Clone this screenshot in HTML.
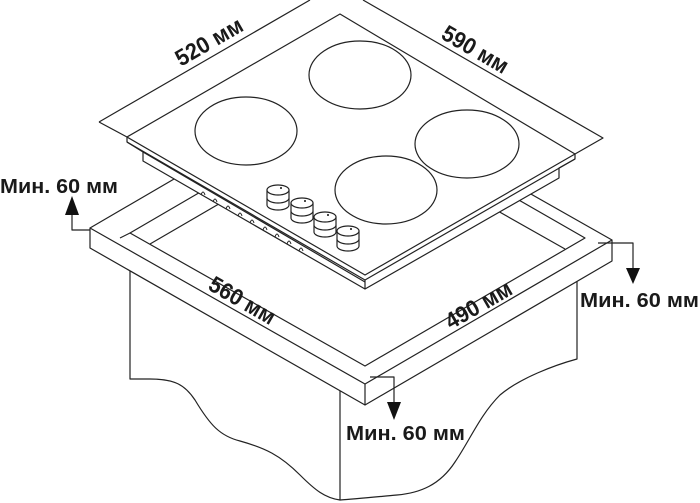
<!DOCTYPE html>
<html><head><meta charset="utf-8"><style>
html,body{margin:0;padding:0;background:#fff;}
svg{display:block;}
text{font-family:"Liberation Sans",sans-serif;font-weight:bold;fill:#1a1a1a;}
</style></head><body>
<svg width="700" height="503" viewBox="0 0 700 503" xmlns="http://www.w3.org/2000/svg">
<g fill="none" stroke="#222" stroke-width="1.2" stroke-linejoin="round">
<!-- cabinet -->
<path d="M130,271 L130,379 L150,379 C175,379 185,385 195,400 C210,425 220,436 240,441 C265,448 280,455 300,475 C315,490 325,498 340,500 L340,391"/>
<path d="M577,281 L577,359 C555,365 520,378 500,395 C480,415 470,440 455,462 C440,485 420,493 397,495 C375,497 355,499 340,500"/>
<!-- countertop -->
<path d="M90,228 L337,84 L612,240"/>
<path d="M90,228 L365,384 L612,240 L612,261 L365,405 L90,248 Z"/>
<path d="M365,384 L365,405"/>
<path d="M245,166 L130,233 L365,366 L585,238 L470,172"/>
<path d="M150,244 L260,180"/>
<path d="M565,249 L450,184"/>
<path d="M120,238 L130,233"/>
<!-- hob body -->
<path fill="#fff" d="M127,137 L340,14 L575,154 L575,159 L559,168 L559,178 L365,289 L143,161 L143,152 L127,142 Z"/>
<path d="M127,142 L365,280 L575,159"/>
<path d="M143,152 L365,282 M365,280 L365,289"/>
<path d="M127,137 L365,275 L575,154"/>
<!-- dimension lines -->
<path d="M99,122 L310,0 M99,122 L127,137"/>
<path d="M363,0 L603,138 L575,154"/>
<!-- burners -->
<ellipse cx="246" cy="131" rx="51" ry="34"/>
<ellipse cx="360" cy="75" rx="51" ry="34"/>
<ellipse cx="467" cy="144" rx="52" ry="34"/>
<ellipse cx="386" cy="190" rx="51" ry="34"/>
<!-- notches -->
<g stroke-width="1">
<path d="M201,195 q2,-6 4,0 M213,202 q2,-6 4,0 M226,209 q2,-6 4,0 M238,216 q2,-6 4,0 M250,223 q2,-6 4,0 M263,230 q2,-6 4,0 M275,237 q2,-6 4,0 M287,244 q2,-6 4,0 M299,251 q2,-6 4,0"/>
</g>
<!-- knobs -->
<g fill="#fff">
<path d="M267,190 L267,205 A11,5 0 0 0 289,205 L289,190"/><ellipse cx="278" cy="190" rx="11" ry="5"/><path d="M267,198 A11,5 0 0 0 289,198"/>
<path d="M291,203 L291,218 A11,5 0 0 0 313,218 L313,203"/><ellipse cx="302" cy="203" rx="11" ry="5"/><path d="M291,211 A11,5 0 0 0 313,211"/>
<path d="M314,217 L314,232 A11,5 0 0 0 336,232 L336,217"/><ellipse cx="325" cy="217" rx="11" ry="5"/><path d="M314,225 A11,5 0 0 0 336,225"/>
<path d="M337,231 L337,246 A11,5 0 0 0 359,246 L359,231"/><ellipse cx="348" cy="231" rx="11" ry="5"/><path d="M337,239 A11,5 0 0 0 359,239"/>
</g>
<!-- arrows leaders -->
<path d="M90,230 L72,230 L72,212"/>
<path d="M598,243 L633,243 L633,270"/>
<path d="M370,377 L394,377 L394,405"/>
</g>
<g fill="#111">
<path d="M72,196 L65,215 L79,215 Z"/>
<path d="M633,284 L626,268 L640,268 Z"/>
<path d="M394,420 L387,402 L401,402 Z"/>
<circle cx="281" cy="188" r="1"/><circle cx="305" cy="201" r="1"/><circle cx="328" cy="215" r="1"/><circle cx="351" cy="229" r="1"/>
</g>
<!-- labels -->
<text x="0" y="193" font-size="20" textLength="118" lengthAdjust="spacingAndGlyphs">Мин. 60 мм</text>
<text x="580" y="307" font-size="20" textLength="119" lengthAdjust="spacingAndGlyphs">Мин. 60 мм</text>
<text x="346" y="440" font-size="20" textLength="119" lengthAdjust="spacingAndGlyphs">Мин. 60 мм</text>
<text x="172" y="50" font-size="23" textLength="74" lengthAdjust="spacingAndGlyphs" transform="rotate(-30 208 42)">520 мм</text>
<text x="439" y="57" font-size="23" textLength="73" lengthAdjust="spacingAndGlyphs" transform="rotate(30 475 49)">590 мм</text>
<text x="206" y="308" font-size="23" textLength="73" lengthAdjust="spacingAndGlyphs" transform="rotate(30 242 300)">560 мм</text>
<text x="442" y="313" font-size="23" textLength="73" lengthAdjust="spacingAndGlyphs" transform="rotate(-30 478 305)">490 мм</text>
</svg>
</body></html>
